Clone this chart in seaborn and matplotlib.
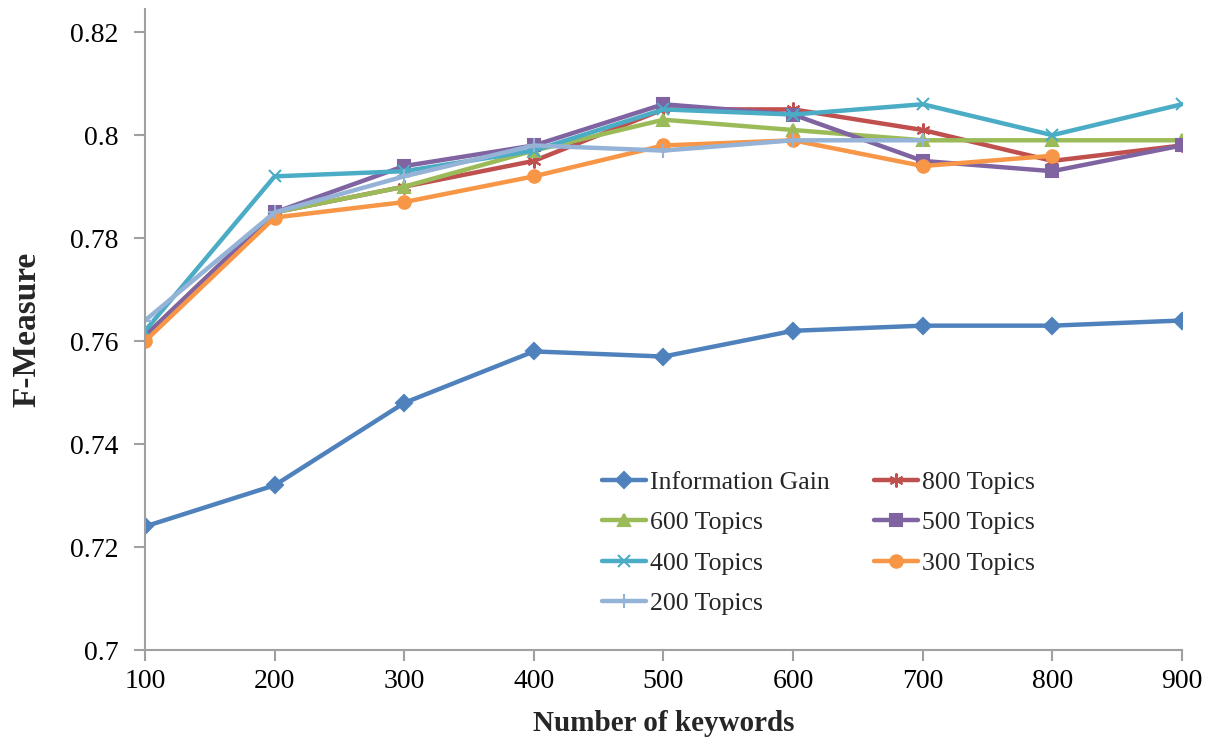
import matplotlib
matplotlib.use('Agg')
import matplotlib.pyplot as plt
import seaborn as sns

# data
keywords = [100, 200, 300, 400, 500, 600, 700, 800, 900]

info_gain = [0.724, 0.732, 0.748, 0.758, 0.757, 0.762, 0.763, 0.763, 0.764]
topics_800 = [0.761, 0.785, 0.790, 0.795, 0.805, 0.805, 0.801, 0.795, 0.798]
topics_600 = [0.761, 0.785, 0.790, 0.797, 0.803, 0.801, 0.799, 0.799, 0.799]
topics_500 = [0.761, 0.785, 0.794, 0.798, 0.806, 0.804, 0.795, 0.793, 0.798]
topics_400 = [0.762, 0.792, 0.793, 0.797, 0.805, 0.804, 0.806, 0.800, 0.806]
topics_300 = [0.760, 0.784, 0.787, 0.792, 0.798, 0.799, 0.794, 0.796]
topics_200 = [0.764, 0.785, 0.792, 0.798, 0.797, 0.799, 0.799]

series = [
    ('Information Gain', info_gain, '#4F81BD', 'D', 8),
    ('800 Topics', topics_800, '#C0504D', (6, 2, 0), 10),
    ('600 Topics', topics_600, '#9BBB59', '^', 9),
    ('500 Topics', topics_500, '#8064A2', 's', 9),
    ('400 Topics', topics_400, '#4BACC6', 'x', 9),
    ('300 Topics', topics_300, '#F79646', 'o', 9),
    ('200 Topics', topics_200, '#95B3D7', '+', 10),
]

sns.set_theme(style='ticks')
plt.rcParams['font.family'] = ['Liberation Serif', 'DejaVu Serif']

fig = plt.figure(figsize=(12.21, 7.38), dpi=100)
ax = fig.add_axes([0.1188, 0.1192, 0.968 - 0.1188, 0.9878 - 0.1192])

handles = {}
for name, vals, color, marker, ms in series:
    sns.lineplot(x=keywords[:len(vals)], y=vals, ax=ax, color=color, marker=marker,
                 markersize=ms, linewidth=3.2, markeredgecolor=color,
                 markeredgewidth=1.5, label=name, legend=False)
    handles[name] = ax.lines[-1]

ax.set_xlim(100, 900)
ax.set_ylim(0.7, 0.8245)
ax.set_xticks(keywords)
ax.set_yticks([0.7, 0.72, 0.74, 0.76, 0.78, 0.8, 0.82])
ax.set_yticklabels(['0.7', '0.72', '0.74', '0.76', '0.78', '0.8', '0.82'])

for s in ['top', 'right']:
    ax.spines[s].set_visible(False)
for s in ['left', 'bottom']:
    ax.spines[s].set_color('#A0A0A0')
    ax.spines[s].set_linewidth(1.5)
ax.tick_params(axis='both', colors='#A0A0A0', length=8, width=1.5,
               labelsize=20, labelcolor='black')
ax.tick_params(axis='y', pad=11)
ax.tick_params(axis='x', pad=6)

ax.set_xlabel('Number of keywords', fontsize=21, fontweight='bold', labelpad=11)
ax.set_ylabel('F-Measure', fontsize=24, fontweight='bold', labelpad=20)

# row-wise order like the original legend
order = ['Information Gain', '600 Topics', '400 Topics', '200 Topics',
         '800 Topics', '500 Topics', '300 Topics']
leg = ax.legend([handles[n] for n in order], order, ncol=2, frameon=False,
                loc='upper left', bbox_to_anchor=(0.4847, 0.376),
                bbox_transform=fig.transFigure, fontsize=18.5,
                handlelength=1.7, handletextpad=0.15, labelspacing=0.68,
                columnspacing=1.75, borderaxespad=0)

fig.savefig('out.png', dpi=100)
